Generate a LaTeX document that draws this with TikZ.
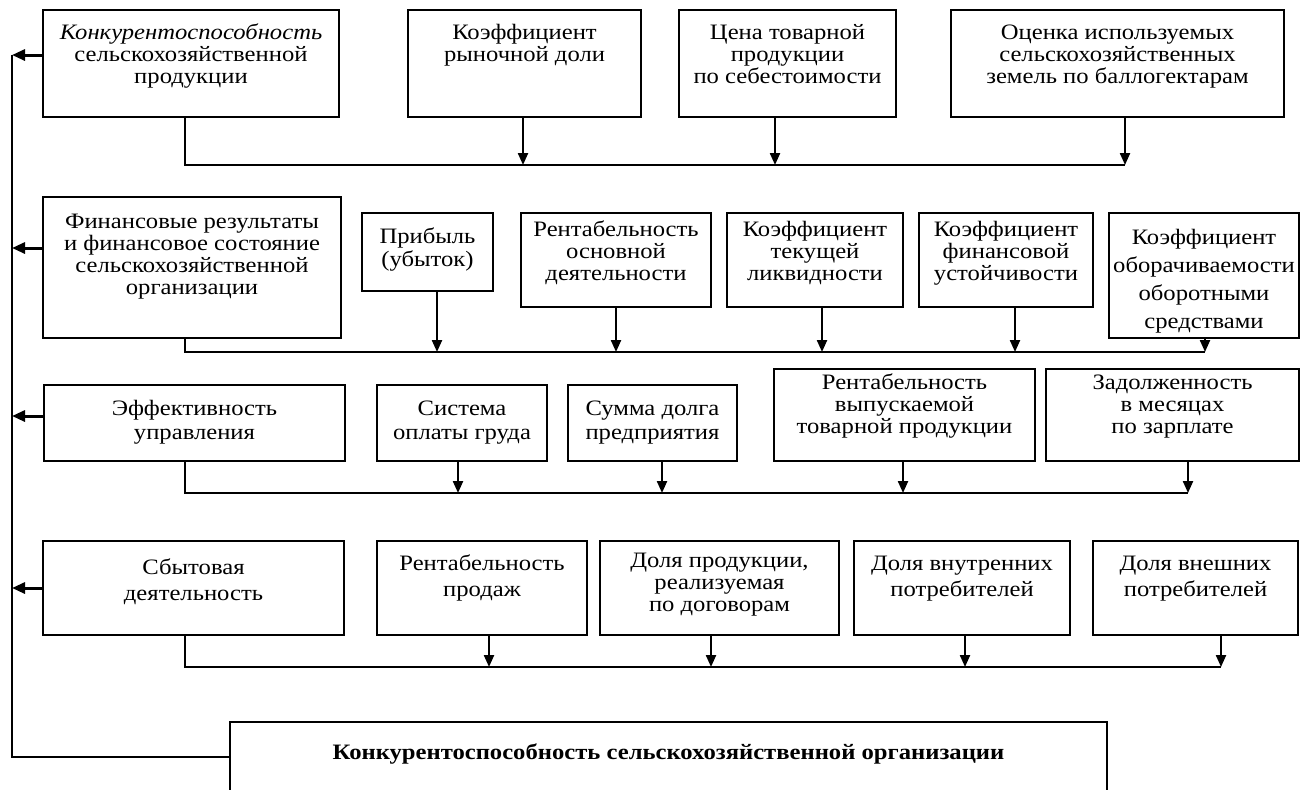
\documentclass[tikz,border=0pt]{standalone}
\usepackage{fontspec}
\setmainfont{Liberation Serif}[FakeStretch=1.12]
\usetikzlibrary{arrows.meta}
\newlength\un \setlength\un{0.5pt}
\newcommand\fs{11pt}
% \B[opts]{name}{x1}{y1}{x2}{y2}{pad to first baseline}{baselineskip}{text}
\newcommand\B[9][]{\node[bx,#1] (#2) at ({(#3+#5)/2},{(#4+#6)/2})
  {\parbox[c][\dimexpr#6\un-#4\un\relax][t]{\dimexpr#5\un-#3\un\relax}{\fontsize{\fs}{#8\un}\selectfont\centering\vspace*{\dimexpr#7\un-\ht\strutbox\relax}\strut#9}};}
\tikzset{
  bx/.style={draw, line width=0.6pt, inner sep=0pt, outer sep=0pt},
  bus/.style={line width=0.6pt},
  arr/.style={line width=1.1pt, -{Triangle[length=6pt,width=5pt]}},
  larr/.style={line width=1.5pt, -{Triangle[length=6.5pt,width=5.5pt]}},
  trunk/.style={line width=0.8pt},
}
\begin{document}
\begin{tikzpicture}[x=0.5pt,y=-0.5pt]
\useasboundingbox (0,0) rectangle (1300,789);
% Row 1
\B{b1}{43}{10}{339}{117}{29}{22}{{\itshape Конкурентоспособность}\\сельскохозяйственной\\продукции}
\B{b2}{408}{10}{641}{117}{29}{22}{Коэффициент\\рыночной доли}
\B{b3}{679}{10}{896}{117}{29}{22}{Цена товарной\\продукции\\по себестоимости}
\B{b4}{951}{10}{1284}{117}{29}{22}{Оценка используемых\\сельскохозяйственных\\земель по баллогектарам}
% Row 2
\B{f1}{43}{197}{341}{338}{31}{22}{Финансовые результаты\\и финансовое состояние\\сельскохозяйственной\\организации}
\B{f2}{362}{213}{493}{291}{30}{23}{Прибыль\\(убыток)}
\B{f3}{521}{213}{711}{307}{23}{22}{Рентабельность\\основной\\деятельности}
\B{f4}{727}{213}{903}{307}{23}{22}{Коэффициент\\текущей\\ликвидности}
\B{f5}{919}{213}{1093}{307}{23}{22}{Коэффициент\\финансовой\\устойчивости}
\B{f6}{1109}{213}{1299}{338}{31}{28}{Коэффициент\\оборачиваемости\\оборотными\\средствами}
% Row 3
\B{e1}{44}{385}{345}{461}{30}{24}{Эффективность\\управления}
\B{e2}{377}{385}{547}{461}{30}{24}{Система\\оплаты груда}
\B{e3}{568}{385}{737}{461}{30}{24}{Сумма долга\\предприятия}
\B{e4}{774}{369}{1035}{461}{20}{22}{Рентабельность\\выпускаемой\\товарной продукции}
\B{e5}{1046}{369}{1299}{461}{20}{22}{Задолженность\\в месяцах\\по зарплате}
% Row 4
\B{s1}{43}{541}{344}{635}{33}{26}{Сбытовая\\деятельность}
\B{s2}{377}{541}{587}{635}{29}{26}{Рентабельность\\продаж}
\B{s3}{600}{541}{839}{635}{26}{22}{Доля продукции,\\реализуемая\\по договорам}
\B{s4}{854}{541}{1070}{635}{29}{26}{Доля внутренних\\потребителей}
\B{s5}{1093}{541}{1298}{635}{29}{26}{Доля внешних\\потребителей}
% Bottom
\B{bot}{230}{722}{1107}{792}{37}{22}{\bfseries Конкурентоспособность сельскохозяйственной организации}
% Row 1 bus
\coordinate (r1s) at (185,165);
\coordinate (r1a) at (523,165);
\coordinate (r1b) at (775,165);
\coordinate (r1c) at (1125,165);
\draw[bus] (b1.south -| r1s) -- (r1s) -- (r1c);
\draw[arr] (b2.south -| r1a) -- (r1a);
\draw[arr] (b3.south -| r1b) -- (r1b);
\draw[arr] (b4.south -| r1c) -- (r1c);
% Row 2 bus
\coordinate (r2s) at (185,352);
\coordinate (r2a) at (437,352);
\coordinate (r2b) at (616,352);
\coordinate (r2c) at (822,352);
\coordinate (r2d) at (1015,352);
\coordinate (r2e) at (1205,352);
\draw[bus] (f1.south -| r2s) -- (r2s) -- (r2e);
\draw[arr] (f2.south -| r2a) -- (r2a);
\draw[arr] (f3.south -| r2b) -- (r2b);
\draw[arr] (f4.south -| r2c) -- (r2c);
\draw[arr] (f5.south -| r2d) -- (r2d);
\draw[arr] (f6.south -| r2e) -- (r2e);
% Row 3 bus
\coordinate (r3s) at (185,493);
\coordinate (r3a) at (458,493);
\coordinate (r3b) at (662,493);
\coordinate (r3c) at (903,493);
\coordinate (r3d) at (1188,493);
\draw[bus] (e1.south -| r3s) -- (r3s) -- (r3d);
\draw[arr] (e2.south -| r3a) -- (r3a);
\draw[arr] (e3.south -| r3b) -- (r3b);
\draw[arr] (e4.south -| r3c) -- (r3c);
\draw[arr] (e5.south -| r3d) -- (r3d);
% Row 4 bus
\coordinate (r4s) at (185,667);
\coordinate (r4a) at (489,667);
\coordinate (r4b) at (711,667);
\coordinate (r4c) at (965,667);
\coordinate (r4d) at (1221,667);
\draw[bus] (s1.south -| r4s) -- (r4s) -- (r4d);
\draw[arr] (s2.south -| r4a) -- (r4a);
\draw[arr] (s3.south -| r4b) -- (r4b);
\draw[arr] (s4.south -| r4c) -- (r4c);
\draw[arr] (s5.south -| r4d) -- (r4d);
% Left trunk
\coordinate (t1) at (12,55);
\coordinate (t2) at (12,248);
\coordinate (t3) at (12,416);
\coordinate (t4) at (12,588);
\draw[trunk] (t1) |- (bot.west);
\draw[larr] (b1.west |- t1) -- (t1);
\draw[larr] (f1.west |- t2) -- (t2);
\draw[larr] (e1.west |- t3) -- (t3);
\draw[larr] (s1.west |- t4) -- (t4);
\end{tikzpicture}
\end{document}
